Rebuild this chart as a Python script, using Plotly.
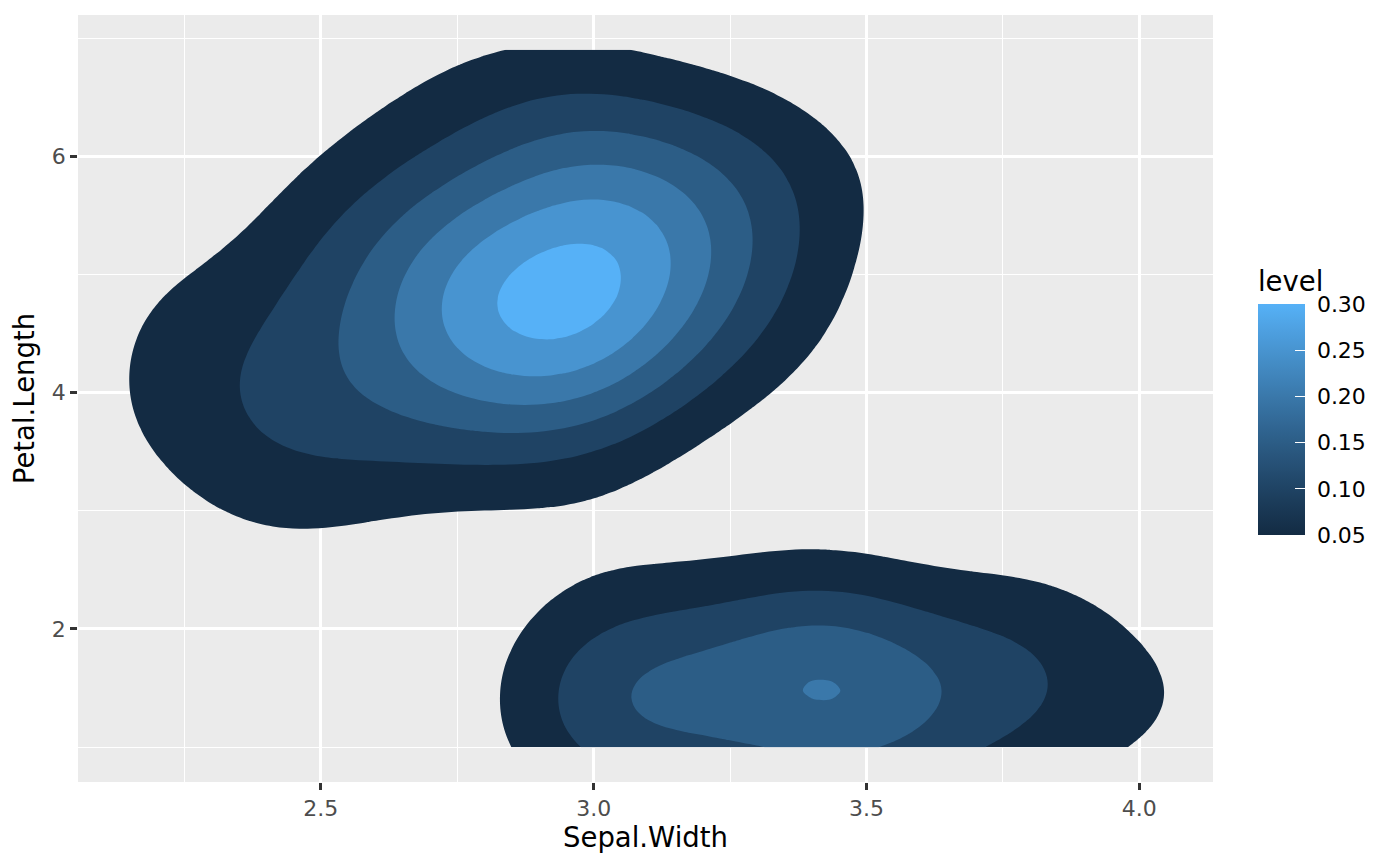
import numpy as np
import plotly.graph_objects as go

# iris measurements (Sepal.Width, Petal.Length), in dataset order
sepal_width = [
    3.5, 3.0, 3.2, 3.1, 3.6, 3.9, 3.4, 3.4, 2.9, 3.1, 3.7, 3.4, 3.0, 3.0, 4.0, 4.4, 3.9, 3.5, 3.8, 3.8,
    3.4, 3.7, 3.6, 3.3, 3.4, 3.0, 3.4, 3.5, 3.4, 3.2, 3.1, 3.4, 4.1, 4.2, 3.1, 3.2, 3.5, 3.6, 3.0, 3.4,
    3.5, 2.3, 3.2, 3.5, 3.8, 3.0, 3.8, 3.2, 3.7, 3.3,
    3.2, 3.2, 3.1, 2.3, 2.8, 2.8, 3.3, 2.4, 2.9, 2.7, 2.0, 3.0, 2.2, 2.9, 2.9, 3.1, 3.0, 2.7, 2.2, 2.5,
    3.2, 2.8, 2.5, 2.8, 2.9, 3.0, 2.8, 3.0, 2.9, 2.6, 2.4, 2.4, 2.7, 2.7, 3.0, 3.4, 3.1, 2.3, 3.0, 2.5,
    2.6, 3.0, 2.6, 2.3, 2.7, 3.0, 2.9, 2.9, 2.5, 2.8,
    3.3, 2.7, 3.0, 2.9, 3.0, 3.0, 2.5, 2.9, 2.5, 3.6, 3.2, 2.7, 3.0, 2.5, 2.8, 3.2, 3.0, 3.8, 2.6, 2.2,
    3.2, 2.8, 2.8, 2.7, 3.3, 3.2, 2.8, 3.0, 2.8, 3.0, 2.8, 3.8, 2.8, 2.8, 2.6, 3.0, 3.4, 3.1, 3.0, 3.1,
    3.1, 3.1, 2.7, 3.2, 3.3, 3.0, 2.5, 3.0, 3.4, 3.0,
]
petal_length = [
    1.4, 1.4, 1.3, 1.5, 1.4, 1.7, 1.4, 1.5, 1.4, 1.5, 1.5, 1.6, 1.4, 1.1, 1.2, 1.5, 1.3, 1.4, 1.7, 1.5,
    1.7, 1.5, 1.0, 1.7, 1.9, 1.6, 1.6, 1.5, 1.4, 1.6, 1.6, 1.5, 1.5, 1.4, 1.5, 1.2, 1.3, 1.4, 1.3, 1.5,
    1.3, 1.3, 1.3, 1.6, 1.9, 1.4, 1.6, 1.4, 1.5, 1.4,
    4.7, 4.5, 4.9, 4.0, 4.6, 4.5, 4.7, 3.3, 4.6, 3.9, 3.5, 4.2, 4.0, 4.7, 3.6, 4.4, 4.5, 4.1, 4.5, 3.9,
    4.8, 4.0, 4.9, 4.7, 4.3, 4.4, 4.8, 5.0, 4.5, 3.5, 3.8, 3.7, 3.9, 5.1, 4.5, 4.5, 4.7, 4.4, 4.1, 4.0,
    4.4, 4.6, 4.0, 3.3, 4.2, 4.2, 4.2, 4.3, 3.0, 4.1,
    6.0, 5.1, 5.9, 5.6, 5.8, 6.6, 4.5, 6.3, 5.8, 6.1, 5.1, 5.3, 5.5, 5.0, 5.1, 5.3, 5.5, 6.7, 6.9, 5.0,
    5.7, 4.9, 6.7, 4.9, 5.7, 6.0, 4.8, 4.9, 5.6, 5.8, 6.1, 6.4, 5.6, 5.1, 5.6, 6.1, 5.6, 5.5, 4.8, 5.4,
    5.6, 5.1, 5.1, 5.9, 5.7, 5.2, 5.0, 5.2, 5.4, 5.1,
]

levels = [0.05, 0.10, 0.15, 0.20, 0.25, 0.30]
level_labels = ["0.05", "0.10", "0.15", "0.20", "0.25", "0.30"]
x_ticks = [2.5, 3.0, 3.5, 4.0]
x_ticktext = ["2.5", "3.0", "3.5", "4.0"]
y_ticks = [2, 4, 6]
y_ticktext = ["2", "4", "6"]


def bandwidth_nrd(v):
    '''same as MASS::bandwidth.nrd'''
    q1, q3 = np.percentile(v, [25, 75])
    h = (q3 - q1) / 1.34
    return 4 * 1.06 * min(np.std(v, ddof=1), h) * len(v) ** (-1 / 5)


def kde2d(x, y, n=100):
    '''same as MASS::kde2d with default bandwidths, grid over the data range'''
    x = np.asarray(x)
    y = np.asarray(y)
    gx = np.linspace(x.min(), x.max(), n)
    gy = np.linspace(y.min(), y.max(), n)
    hx = bandwidth_nrd(x) / 4
    hy = bandwidth_nrd(y) / 4
    ax = (gx[:, None] - x[None, :]) / hx
    ay = (gy[:, None] - y[None, :]) / hy
    dn = lambda u: np.exp(-0.5 * u ** 2) / np.sqrt(2 * np.pi)
    z = dn(ax) @ dn(ay).T / (len(x) * hx * hy)
    return gx, gy, z


# colour helpers, ggplot's default gradient is interpolated in Lab
def srgb_to_lab(hexcol):
    c = np.array([int(hexcol[i:i + 2], 16) for i in (1, 3, 5)]) / 255
    c = np.where(c > 0.04045, ((c + 0.055) / 1.055) ** 2.4, c / 12.92)
    m = np.array([[0.4124, 0.3576, 0.1805], [0.2126, 0.7152, 0.0722], [0.0193, 0.1192, 0.9505]])
    xyz = m @ c / np.array([0.95047, 1.0, 1.08883])
    f = np.where(xyz > 216 / 24389, np.cbrt(xyz), (24389 / 27 * xyz + 16) / 116)
    return np.array([116 * f[1] - 16, 500 * (f[0] - f[1]), 200 * (f[1] - f[2])])


def lab_to_hex(lab):
    fy = (lab[0] + 16) / 116
    fx = fy + lab[1] / 500
    fz = fy - lab[2] / 200
    f = np.array([fx, fy, fz])
    xyz = np.where(f ** 3 > 216 / 24389, f ** 3, (116 * f - 16) / (24389 / 27))
    xyz = xyz * np.array([0.95047, 1.0, 1.08883])
    mi = np.array([[3.2406, -1.5372, -0.4986], [-0.9689, 1.8758, 0.0415], [0.0557, -0.2040, 1.0570]])
    c = mi @ xyz
    c = np.where(c > 0.0031308, 1.055 * np.clip(c, 0, None) ** (1 / 2.4) - 0.055, 12.92 * c)
    c = np.clip(np.round(c * 255), 0, 255).astype(int)
    return '#{:02x}{:02x}{:02x}'.format(*c)


low = srgb_to_lab('#132B43')
high = srgb_to_lab('#56B1F7')


def grad(t):
    return lab_to_hex(low + (high - low) * t)


lo, hi = levels[0], levels[-1]

# contour fill: below first level transparent, then one colour per level
fill_scale = [[0, 'rgba(0,0,0,0)']]
for i, lv in enumerate(levels):
    fill_scale.append([(i + 1) / len(levels), grad((lv - lo) / (hi - lo))])

bar_scale = [[t, grad(t)] for t in np.linspace(0, 1, 21)]

gx, gy, z = kde2d(sepal_width, petal_length)

fig = go.Figure()

fig.add_trace(go.Contour(
    x=gx, y=gy, z=z.T,
    colorscale=fill_scale,
    autocontour=False,
    contours=dict(start=levels[0], end=levels[-1], size=0.05, coloring='fill', showlines=False),
    line=dict(width=0, smoothing=1),
    showscale=False,
    hoverinfo='skip',
))

# legend bar
fig.add_trace(go.Scatter(
    x=[None], y=[None], mode='markers', showlegend=False,
    marker=dict(
        color=[lo], colorscale=bar_scale, cmin=lo, cmax=hi, showscale=True,
        colorbar=dict(
            title=dict(text='level', side='top', font=dict(size=27.5, color='black')),
            tickvals=levels, ticktext=['\u00a0' + t for t in level_labels],
            tickfont=dict(size=22, color='black'),
            ticks='inside', ticklen=10, tickcolor='white', tickwidth=1.3,
            outlinewidth=0, thickness=47,
            lenmode='pixels', len=268,
            x=1.0396, xanchor='left', xpad=0,
            y=0.322, yanchor='bottom', ypad=0,
        ),
    ),
))

# page body adds 8px around the figure
fig.update_layout(
    width=1384, height=850,
    margin=dict(l=70, r=179, t=7, b=76),
    paper_bgcolor='white',
    plot_bgcolor='#EBEBEB',
    font=dict(family='DejaVu Sans', color='black'),
    showlegend=False,
    xaxis=dict(
        range=[2.055, 4.135],
        tickvals=x_ticks, ticktext=x_ticktext,
        tickfont=dict(size=22, color='#4D4D4D'),
        ticks='outside', ticklen=6.9, tickwidth=2.6, tickcolor='#333333',
        showgrid=True, gridcolor='white', gridwidth=2.6,
        minor=dict(dtick=0.25, tick0=0, showgrid=True, gridcolor='white', gridwidth=1.3),
        zeroline=False, showline=False,
        title=dict(text='Sepal.Width', font=dict(size=27.5, color='black'), standoff=6),
    ),
    yaxis=dict(
        range=[0.705, 7.195],
        tickvals=y_ticks, ticktext=y_ticktext,
        tickfont=dict(size=22, color='#4D4D4D'),
        ticks='outside', ticklen=6.9, tickwidth=2.6, tickcolor='#333333',
        showgrid=True, gridcolor='white', gridwidth=2.6,
        minor=dict(dtick=1, tick0=0, showgrid=True, gridcolor='white', gridwidth=1.3),
        zeroline=False, showline=False,
        title=dict(text='Petal.Length', font=dict(size=27.5, color='black'), standoff=10),
    ),
)

fig.write_html("out.html")
